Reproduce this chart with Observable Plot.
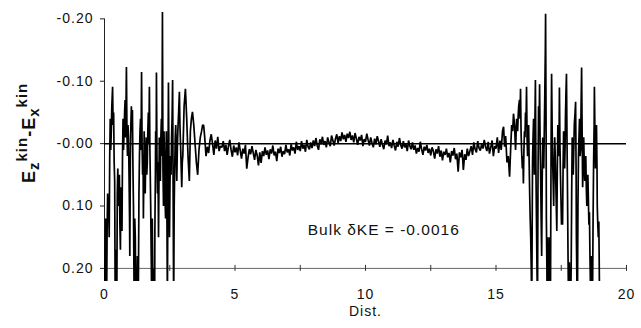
<!DOCTYPE html>
<html>
<head>
<meta charset="utf-8">
<script src="https://cdn.jsdelivr.net/npm/d3@7"></script>
<script src="https://cdn.jsdelivr.net/npm/@observablehq/plot@0.6"></script>
<style>
  html, body { margin: 0; padding: 0; background: #fff; }
</style>
</head>
<body>
<div id="chart"></div>
<script>
// ---- data ----
const yTickValues = [-0.2, -0.1, 0, 0.1, 0.2];
const yTickLabels = ["-0.20", "-0.10", "-0.00", "0.10", "0.20"];
const xTickValues = [0, 5, 10, 15, 20];
const xMinorTicks = [0, 2.5, 5, 7.5, 10, 12.5, 15, 17.5, 20];
const xLabel = "Dist.";
const annotation = "Bulk δKE = -0.0016";
const annotationDist = 10.7;
const annotationDiff = 0.138;

// surface region, left side: [dist, Ez - Ex]
const edgeLeft = [
  [0.00,0.26],[0.02,0.18],[0.04,0.12],[0.06,0.20],[0.08,0.26],[0.10,0.14],[0.12,0.08],[0.14,0.12],
  [0.16,0.10],[0.18,0.15],[0.20,0.02],[0.22,-0.04],[0.24,0.01],[0.26,-0.02],[0.28,-0.06],[0.31,-0.091],
  [0.33,-0.03],[0.35,-0.05],[0.37,0.03],[0.39,0.06],[0.41,0.26],[0.43,0.17],[0.44,0.26],[0.46,0.20],
  [0.47,0.26],[0.49,0.08],[0.51,0.04],[0.53,0.10],[0.55,0.06],[0.57,0.05],[0.59,0.13],[0.61,0.17],
  [0.63,0.07],[0.65,0.09],[0.67,0.14],[0.69,0.02],[0.71,-0.04],[0.73,0.01],[0.75,-0.02],[0.77,-0.05],
  [0.79,-0.07],[0.81,-0.01],[0.84,-0.123],[0.86,-0.02],[0.88,0.02],[0.90,-0.03],[0.92,-0.01],[0.94,0.05],
  [0.96,0.12],[0.97,0.18],[0.99,0.03],[1.01,-0.03],[1.03,-0.06],[1.05,-0.02],[1.07,-0.054],[1.09,0.04],
  [1.11,0.10],[1.13,0.22],[1.14,0.26],[1.16,0.12],[1.18,0.15],[1.20,0.26],[1.22,0.20],[1.24,0.26],
  [1.26,0.18],[1.28,0.26],[1.30,0.22],[1.32,0.08],[1.34,0.02],[1.36,-0.02],[1.38,-0.04],[1.40,0.01],
  [1.42,-0.115],[1.44,0.00],[1.46,0.05],[1.48,0.03],[1.49,0.12],[1.51,0.04],[1.52,-0.02],[1.54,0.03],
  [1.56,0.08],[1.58,0.02],[1.60,-0.01],[1.62,0.05],[1.64,0.03],[1.66,-0.02],[1.68,-0.05],[1.70,0.00],
  [1.72,-0.091],[1.74,0.01],[1.75,0.04],[1.77,0.10],[1.78,0.14],[1.80,0.22],[1.81,0.26],[1.83,0.12],
  [1.84,0.16],[1.86,0.26],[1.87,0.20],[1.89,0.26],[1.90,0.20],[1.92,0.26],[1.93,0.14],[1.95,0.05],
  [1.96,-0.02],[1.98,0.02],[1.99,-0.114],[2.01,0.02],[2.03,0.08],[2.05,0.03],[2.07,0.15],[2.09,0.04],
  [2.10,-0.01],[2.12,0.03],[2.14,0.06],[2.16,-0.01],[2.18,-0.04],[2.20,0.02],[2.22,-0.211],[2.24,0.04],
  [2.26,0.10],[2.28,-0.02],[2.30,0.03],[2.32,0.09],[2.34,0.12],[2.36,0.01],[2.37,-0.02],[2.39,0.10],
  [2.41,0.26],[2.43,0.06],[2.45,-0.098],[2.47,0.03],[2.49,0.15],[2.51,0.06],[2.53,0.02],[2.55,0.05],
  [2.57,-0.01],[2.59,-0.04],[2.61,-0.102],[2.63,0.08],[2.65,0.26],[2.67,0.10],[2.69,0.04],[2.71,-0.01],
  [2.73,-0.03],[2.75,0.02],[2.77,0.06],[2.79,0.01],[2.81,-0.02],[2.84,-0.05],[2.87,-0.083],[2.89,-0.03],
  [2.92,0.01],[2.94,0.04],[2.96,0.07],[2.98,0.03],
  [3.00,0.02],[3.05,-0.06],[3.10,-0.088],[3.15,-0.04],[3.20,0.02],[3.25,0.06],[3.29,-0.02],[3.33,-0.04],
  [3.37,-0.051],[3.42,-0.03],[3.47,0.00],[3.52,0.03],[3.57,0.05],[3.62,0.01],[3.67,-0.01],[3.72,-0.02],
  [3.76,-0.03],[3.80,-0.029],[3.84,-0.01],[3.89,0.02],[3.94,0.005],[3.99,0.015],[4.04,-0.005],[4.09,-0.015],
  [4.14,0.0],[4.19,0.018],[4.24,-0.005],[4.29,0.008],[4.34,-0.011],[4.39,0.012],[4.44,0.004]
];

// bulk region: [dist, Ez - Ex]
const bulk = [
  [4.50,0.006],[4.55,-0.004],[4.60,0.012],[4.65,0.002],[4.70,0.018],[4.75,0.004],[4.80,-0.006],[4.85,0.010],[4.90,0.021],[4.95,0.003],
  [5.00,0.014],[5.05,0.006],[5.10,0.019],[5.15,-0.002],[5.20,0.011],[5.25,0.024],[5.30,0.008],[5.35,0.016],[5.40,0.002],[5.45,0.040],
  [5.50,0.022],[5.55,0.009],[5.60,0.017],[5.65,0.004],[5.70,0.015],[5.75,0.026],[5.80,0.010],[5.85,0.019],[5.90,0.035],[5.95,0.014],
  [6.00,0.031],[6.05,0.012],[6.10,0.020],[6.15,0.006],[6.20,0.018],[6.25,0.011],[6.30,0.025],[6.35,0.009],[6.40,0.016],[6.45,0.003],
  [6.50,0.019],[6.55,0.013],[6.60,0.028],[6.65,0.008],[6.70,0.015],[6.75,0.005],[6.80,0.021],[6.85,0.012],[6.90,0.017],[6.95,0.002],
  [7.00,0.014],[7.05,0.009],[7.10,0.019],[7.15,0.001],[7.20,0.011],[7.25,0.006],[7.30,0.016],[7.35,-0.003],[7.40,0.010],[7.45,0.004],
  [7.50,0.012],[7.55,-0.004],[7.60,0.008],[7.65,0.002],[7.70,0.013],[7.75,-0.006],[7.80,0.005],[7.85,0.009],[7.90,-0.002],[7.95,0.007],
  [8.00,-0.005],[8.05,0.004],[8.10,-0.009],[8.15,0.003],[8.20,0.010],[8.25,-0.007],[8.30,0.001],[8.35,-0.011],[8.40,0.002],[8.45,-0.004],
  [8.50,0.006],[8.55,-0.010],[8.60,-0.002],[8.65,0.004],[8.70,-0.013],[8.75,-0.005],[8.80,0.003],[8.85,-0.008],[8.90,-0.015],[8.95,-0.001],
  [9.00,-0.012],[9.05,-0.004],[9.10,-0.018],[9.15,-0.007],[9.20,-0.014],[9.25,-0.003],[9.30,-0.016],[9.35,-0.009],[9.40,-0.019],[9.45,-0.006],
  [9.50,-0.013],[9.55,-0.002],[9.60,-0.017],[9.65,-0.008],[9.70,0.002],[9.75,-0.011],[9.80,-0.005],[9.85,-0.014],[9.90,0.004],[9.95,-0.007],
  [10.00,-0.003],[10.05,-0.016],[10.10,-0.006],[10.15,0.003],[10.20,-0.010],[10.25,-0.001],[10.30,0.006],[10.35,-0.008],[10.40,0.001],[10.45,-0.012],
  [10.50,-0.004],[10.55,0.005],[10.60,-0.007],[10.65,0.002],[10.70,0.009],[10.75,-0.005],[10.80,0.001],[10.85,-0.013],[10.90,0.004],[10.95,-0.002],
  [11.00,0.007],[11.05,-0.006],[11.10,0.003],[11.15,0.011],[11.20,-0.003],[11.25,0.005],[11.30,-0.009],[11.35,0.002],[11.40,0.008],[11.45,-0.004],
  [11.50,0.006],[11.55,0.001],[11.60,0.012],[11.65,-0.005],[11.70,0.004],[11.75,0.009],[11.80,-0.002],[11.85,0.010],[11.90,0.003],[11.95,0.016],
  [12.00,0.007],[12.05,0.013],[12.10,-0.003],[12.15,0.009],[12.20,0.018],[12.25,0.005],[12.30,0.011],[12.35,0.002],[12.40,0.015],[12.45,0.008],
  [12.50,0.019],[12.55,0.006],[12.60,0.012],[12.65,0.024],[12.70,0.009],[12.75,0.016],[12.80,0.004],[12.85,0.021],[12.90,0.011],[12.95,0.027],
  [13.00,0.013],[13.05,0.018],[13.10,0.008],[13.15,0.022],[13.20,0.015],[13.25,0.030],[13.30,0.012],[13.35,0.019],[13.40,0.007],[13.45,0.025],
  [13.50,0.016],[13.55,0.045],[13.60,0.014],[13.65,0.022],[13.70,0.010],[13.75,0.042],[13.80,0.017],[13.85,0.026],[13.90,0.008],[13.95,0.020],
  [14.00,0.012],[14.05,0.004],[14.10,0.018],[14.15,-0.002],[14.20,0.009],[14.25,0.014],[14.30,-0.004],[14.35,0.007],[14.40,0.011],[14.45,0.001],
  [14.50,0.008],[14.55,-0.006],[14.60,0.005],[14.65,0.012],[14.70,-0.003],[14.75,0.016],[14.80,0.006],[14.85,-0.005],[14.90,0.020],[14.95,0.004]
];

// surface region, right side: [dist, Ez - Ex]
const edgeRight = [
  [15.00,0.008],[15.05,-0.010],[15.10,0.015],[15.15,-0.005],[15.20,0.010],[15.25,-0.020],[15.29,-0.027],[15.33,0.005],
  [15.37,-0.012],[15.42,0.030],[15.47,0.020],[15.52,0.053],[15.56,0.010],[15.60,-0.030],[15.64,-0.020],[15.67,-0.048],
  [15.71,-0.030],[15.75,0.010],[15.79,-0.040],[15.83,-0.020],[15.85,-0.045],[15.87,-0.060],[15.90,-0.070],[15.92,-0.040],
  [15.94,-0.088],[15.96,-0.020],[15.98,0.010],[16.00,0.030],[16.01,0.040],[16.03,0.020],[16.05,0.064],[16.07,0.010],
  [16.09,-0.020],[16.11,-0.010],[16.13,-0.050],[16.15,-0.030],[16.17,-0.091],[16.19,-0.010],[16.21,0.020],[16.23,-0.010],
  [16.25,-0.030],[16.27,0.030],[16.29,0.080],[16.31,0.120],[16.33,0.150],[16.35,0.200],[16.37,0.260],[16.39,0.100],
  [16.40,0.030],[16.42,-0.010],[16.44,-0.040],[16.46,0.020],[16.47,0.050],[16.49,-0.030],[16.51,-0.102],[16.53,0.040],
  [16.55,0.120],[16.57,0.200],[16.59,0.260],[16.61,0.050],[16.63,-0.060],[16.65,-0.020],[16.67,-0.095],[16.69,0.000],
  [16.71,0.050],[16.73,0.120],[16.75,0.180],[16.77,0.060],[16.79,-0.010],[16.81,0.020],[16.83,0.040],[16.85,-0.020],
  [16.87,-0.080],[16.89,-0.150],[16.90,-0.208],[16.92,-0.020],[16.93,0.120],[16.95,0.200],[16.96,0.260],[16.98,0.150],
  [16.99,0.180],[17.01,0.260],[17.02,0.200],[17.04,0.260],[17.05,0.150],[17.07,0.260],[17.09,0.220],[17.11,0.010],
  [17.13,-0.112],[17.15,-0.030],[17.17,0.030],[17.19,0.060],[17.21,0.100],[17.23,0.030],[17.25,-0.010],[17.27,0.020],
  [17.29,0.060],[17.31,0.100],[17.33,0.140],[17.35,0.040],[17.37,-0.030],[17.39,0.020],[17.40,0.010],[17.42,-0.030],
  [17.43,-0.090],[17.45,0.000],[17.47,0.050],[17.49,0.090],[17.51,0.130],[17.53,0.100],[17.55,0.130],[17.57,0.040],
  [17.59,-0.020],[17.61,0.010],[17.63,0.040],[17.65,0.000],[17.66,-0.040],[17.68,-0.080],[17.70,-0.112],[17.72,-0.010],
  [17.74,0.080],[17.76,0.180],[17.78,0.260],[17.80,0.200],[17.81,0.190],[17.83,0.260],[17.84,0.210],[17.86,0.260],
  [17.88,0.200],[17.90,0.080],[17.92,-0.010],[17.94,0.020],[17.96,0.050],[17.98,0.010],[18.00,-0.030],[18.03,-0.050],
  [18.05,-0.067],[18.07,0.050],[18.08,0.150],[18.10,0.220],[18.12,0.260],[18.14,0.100],[18.16,0.020],[18.18,-0.010],
  [18.20,-0.040],[18.22,0.020],[18.24,0.010],[18.26,-0.060],[18.28,-0.122],[18.30,-0.020],[18.32,0.070],[18.34,0.030],
  [18.36,-0.010],[18.38,0.030],[18.40,0.060],[18.42,0.030],[18.44,0.020],[18.46,0.070],[18.48,0.100],[18.50,0.060],
  [18.52,0.050],[18.54,0.090],[18.56,0.130],[18.58,0.110],[18.60,0.180],[18.62,0.230],[18.63,0.260],[18.65,0.180],
  [18.66,0.200],[18.68,0.260],[18.70,0.240],[18.72,0.120],[18.74,0.030],[18.76,-0.030],[18.77,-0.091],[18.79,-0.020],
  [18.81,0.040],[18.83,0.010],[18.85,-0.030],[18.87,0.040],[18.88,0.100],[18.90,0.130],[18.92,0.150],[18.94,0.125],
  [18.97,0.260]
];

const series = [...edgeLeft, ...bulk, ...edgeRight].map(([dist, diff]) => ({dist, diff}));

const chart = Plot.plot({
  width: 641,
  height: 328,
  marginLeft: 104,
  marginRight: 15,
  marginTop: 9,
  marginBottom: 47,
  style: "font-family: 'Liberation Sans', Arial, sans-serif; color: #111; background: #fff; letter-spacing: 1px;",
  x: {domain: [0, 20]},
  y: {domain: [-0.215, 0.221], reverse: true},
  marks: [
    Plot.ruleY([0.2], {x1: 0, x2: 20, stroke: "#666", strokeWidth: 1}),
    Plot.ruleX(xMinorTicks, {y1: 0.2, y2: 0.2, insetTop: -3, insetBottom: -3, stroke: "#333", strokeWidth: 1}),
    Plot.ruleX([0], {y1: -0.2, y2: 0.2, stroke: "#222", strokeWidth: 1}),
    Plot.axisY({ticks: yTickValues, tickFormat: d => yTickLabels[yTickValues.indexOf(d)], tickSize: 4, tickPadding: 7, fontSize: 14, label: null, stroke: "#222"}),
    Plot.axisX({ticks: xTickValues, tickSize: 0, tickPadding: 8, fontSize: 14, label: null}),
    Plot.ruleY([0], {x1: 0, x2: 20, stroke: "#000", strokeWidth: 1.5}),
    Plot.line(series, {x: "dist", y: "diff", clip: true, stroke: "#000", strokeWidth: 1.7, strokeLinejoin: "miter"}),
    Plot.text([annotation], {x: annotationDist, y: annotationDiff, fontSize: 15.5, fill: "#111"}),
    Plot.text([xLabel], {frameAnchor: "bottom", dy: 34, fontSize: 14, fill: "#111"})
  ]
});

document.getElementById("chart").appendChild(chart);

// y-axis label with sub/superscripts
const lab = d3.select(chart).append("text")
  .attr("transform", "translate(35,183) rotate(-90)")
  .attr("font-weight", "bold")
  .attr("font-size", 18)
  .attr("fill", "#111")
  .style("letter-spacing", "1px")
  .attr("text-anchor", "start");
const parts = [
  {t: "E", size: 18, dy: 0},
  {t: "z", size: 15, dy: 4},
  {t: "kin", size: 15, dy: -12},
  {t: "-", size: 18, dy: 8},
  {t: "E", size: 18, dy: 0},
  {t: "x", size: 15, dy: 4},
  {t: "kin", size: 15, dy: -12}
];
parts.forEach(p => lab.append("tspan").attr("font-size", p.size).attr("dy", p.dy).text(p.t));
</script>
</body>
</html>
